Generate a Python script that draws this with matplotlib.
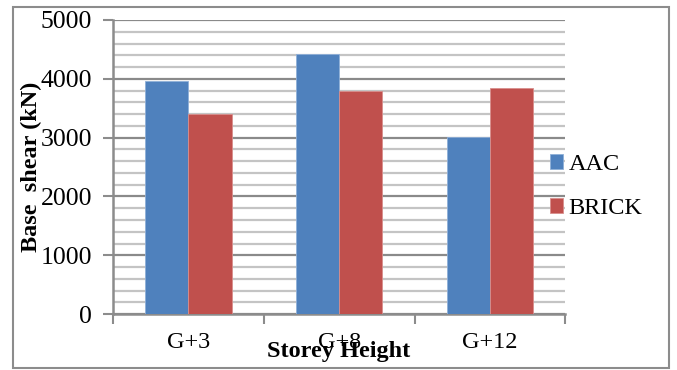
import matplotlib
matplotlib.use("Agg")
import matplotlib.pyplot as plt
from matplotlib.patches import Rectangle
from matplotlib.ticker import MultipleLocator, FixedLocator
import numpy as np

categories = ["G+3", "G+8", "G+12"]
aac = [3960, 4430, 3010]
brick = [3410, 3790, 3850]
series_names = ["AAC", "BRICK"]

plt.rcParams["font.family"] = ["Liberation Serif", "DejaVu Serif"]

fig = plt.figure(figsize=(6.77, 3.70), dpi=100)
ax = fig.add_axes([0.167, 0.151, 0.668, 0.795])

# outer chart frame
fig.patches.append(Rectangle((0.019, 0.005), 0.969, 0.976, transform=fig.transFigure,
                             fill=False, edgecolor="#8c8c8c", linewidth=1.5))

x = np.arange(len(categories))
w = 0.287
ax.bar(x - w / 2, aac, w, color="#4F81BD", edgecolor="#8fb0d8", linewidth=0.6,
       label=series_names[0], zorder=3)
ax.bar(x + w / 2, brick, w, color="#C0504D", edgecolor="#d88e8c", linewidth=0.6,
       label=series_names[1], zorder=3)

ax.set_xlim(-0.5, len(categories) - 0.5)
ax.set_ylim(0, 5000)
ax.yaxis.set_major_locator(MultipleLocator(1000))
ax.yaxis.set_minor_locator(MultipleLocator(200))
ax.grid(which="major", axis="y", color="#8a8a8a", linewidth=1.6, zorder=0)
ax.grid(which="minor", axis="y", color="#c4c4c4", linewidth=1.6, zorder=0)

ax.set_xticks(x)
ax.set_xticklabels(categories, fontsize=17.5)
ax.xaxis.set_minor_locator(FixedLocator(np.arange(len(categories) + 1) - 0.5))
ax.tick_params(axis="x", which="major", length=0, pad=13)
ax.tick_params(axis="x", which="minor", length=7, width=1.5, color="#8c8c8c")
ax.tick_params(axis="y", which="major", length=7, width=1.5, color="#8c8c8c",
               labelsize=18.5, pad=8)
ax.tick_params(axis="y", which="minor", length=0)

for side in ["top", "right"]:
    ax.spines[side].set_visible(False)
for side in ["left", "bottom"]:
    ax.spines[side].set_color("#8c8c8c")
    ax.spines[side].set_linewidth(1.8)

ax.set_ylabel("Base  shear (kN)", fontsize=17.5, fontweight="bold")
ax.yaxis.set_label_coords(-0.157, 0.5)
fig.text(0.5, 0.022, "Storey Height", fontsize=17.5, fontweight="bold",
         ha="center", va="bottom")

ax.legend(loc="center left", bbox_to_anchor=(0.967, 0.434), frameon=False,
          fontsize=17.5, handlelength=0.54, handleheight=0.54, handletextpad=0.2,
          labelspacing=0.95, borderaxespad=0, borderpad=0)

fig.savefig("out.png", dpi=100)
